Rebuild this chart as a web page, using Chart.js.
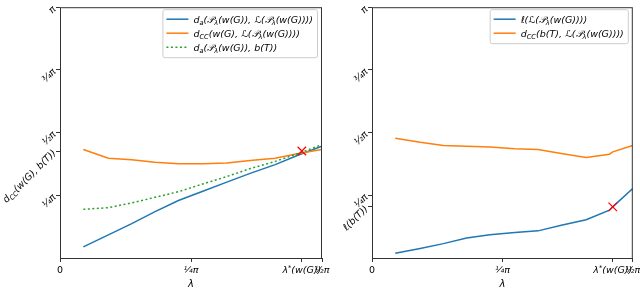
<!DOCTYPE html>
<html>
<head>
<meta charset="utf-8">
<script src="https://cdn.jsdelivr.net/npm/chart.js@4.4.1/dist/chart.umd.min.js"></script>
<style>
  html, body { margin: 0; padding: 0; background: #fff; }
  #wrap { position: relative; width: 640px; height: 289px; overflow: hidden; }
  canvas { position: absolute; top: 0; }
</style>
</head>
<body>
<div id="wrap">
  <canvas id="left" width="332" height="289" style="left:0"></canvas>
  <canvas id="right" width="308" height="289" style="left:332px"></canvas>
</div>
<script>
// values (radians)
const lambdaStar = 1.45;

const xLeft = [0.14, 0.29, 0.43, 0.57, 0.71, 0.86, 1.00, 1.14, 1.29, 1.43, 1.57];
const daLeft = [0.14, 0.29, 0.43, 0.58, 0.72, 0.84, 0.95, 1.06, 1.17, 1.29, 1.40];
const dccLeft = [1.36, 1.25, 1.23, 1.20, 1.18, 1.18, 1.19, 1.22, 1.25, 1.31, 1.36];
const daTree = [0.61, 0.63, 0.69, 0.76, 0.83, 0.93, 1.02, 1.12, 1.21, 1.31, 1.42];
const markLeft = [1.45, 1.34];

const xRight = [0.14, 0.29, 0.43, 0.57, 0.71, 0.86, 1.00, 1.14, 1.29, 1.43, 1.45, 1.57];
const lenRight = [0.06, 0.12, 0.18, 0.25, 0.29, 0.32, 0.34, 0.41, 0.48, 0.60, 0.64, 0.87];
const dccRight = [1.50, 1.45, 1.41, 1.40, 1.39, 1.37, 1.36, 1.31, 1.26, 1.30, 1.33, 1.41];
const markRight = [1.45, 0.64];

const xTicks = [0, Math.PI / 4, lambdaStar, Math.PI / 2];
const xTickLabels = ['0', '¼π', 'λ^{*}(w(G))', '½π'];
const yTicksLeft = [Math.PI / 4, 1.34, Math.PI / 2, 3 * Math.PI / 4, Math.PI];
const yLabelsLeft = ['¼π', 'd_{CC}(w(G), b(T))', '½π', '¾π', 'π'];
const yTicksRight = [0.64, Math.PI / 4, Math.PI / 2, 3 * Math.PI / 4, Math.PI];
const yLabelsRight = ['ℓ(b(T))', '¼π', '½π', '¾π', 'π'];

const legendLeft = [
  'd_{a}(𝒫_{λ}(w(G)), ℒ(𝒫_{λ}(w(G))))',
  'd_{CC}(w(G), ℒ(𝒫_{λ}(w(G))))',
  'd_{a}(𝒫_{λ}(w(G)), b(T))'
];
const legendRight = [
  'ℓ(ℒ(𝒫_{λ}(w(G))))',
  'd_{CC}(b(T), ℒ(𝒫_{λ}(w(G))))'
];

const BLUE = '#1f77b4', ORANGE = '#ff7f0e', GREEN = '#2ca02c';
const FONT = '"DejaVu Sans"';

// split "d_{CC}(x)" into plain / sub / sup pieces
function parseRich(s) {
  const out = [];
  let buf = '', i = 0;
  while (i < s.length) {
    const c = s[i];
    if ((c === '_' || c === '^') && s[i + 1] === '{') {
      if (buf) out.push({ t: buf, k: 0 });
      buf = '';
      const j = s.indexOf('}', i);
      out.push({ t: s.slice(i + 2, j), k: c === '_' ? 1 : -1 });
      i = j + 1;
    } else {
      buf += c;
      i++;
    }
  }
  if (buf) out.push({ t: buf, k: 0 });
  return out;
}

function richWidth(ctx, s, size, style) {
  let w = 0;
  parseRich(s).forEach(p => {
    ctx.font = style + ' ' + (p.k ? size * 0.7 : size) + 'px ' + FONT;
    w += ctx.measureText(p.t).width;
  });
  return w;
}

// draws with vertical middle at y
function drawRich(ctx, s, x, y, size, align, style) {
  style = style || 'italic';
  const w = richWidth(ctx, s, size, style);
  let cx = align === 'right' ? x - w : align === 'center' ? x - w / 2 : x;
  ctx.textAlign = 'left';
  ctx.textBaseline = 'alphabetic';
  ctx.fillStyle = '#000';
  parseRich(s).forEach(p => {
    const sz = p.k ? size * 0.7 : size;
    ctx.font = style + ' ' + sz + 'px ' + FONT;
    const dy = p.k === 1 ? size * 0.22 : p.k === -1 ? -size * 0.38 : 0;
    ctx.fillText(p.t, cx, y + size * 0.36 + dy);
    cx += ctx.measureText(p.t).width;
  });
}

function pts(xs, ys) {
  return xs.map((x, i) => ({ x: x, y: ys[i] }));
}

const framePlugin = {
  id: 'frame',
  afterDraw(chart, args, opts) {
    const ctx = chart.ctx;
    const a = chart.chartArea;
    const xs = chart.scales.x, ys = chart.scales.y;
    ctx.save();
    ctx.strokeStyle = '#333';
    ctx.lineWidth = 1;
    ctx.strokeRect(a.left + 0.5, a.top + 0.5, a.right - a.left - 1, a.bottom - a.top);

    // x tick labels
    opts.xTicks.forEach((v, i) => {
      drawRich(ctx, opts.xLabels[i], xs.getPixelForValue(v), a.bottom + 12, 9.5, 'center',
        opts.xLabels[i] === '0' ? 'normal' : 'italic');
    });
    drawRich(ctx, 'λ', (a.left + a.right) / 2, a.bottom + 25, 10, 'center');

    // y tick labels, rotated 45 degrees
    opts.yTicks.forEach((v, i) => {
      ctx.save();
      ctx.translate(a.left - 6, ys.getPixelForValue(v));
      ctx.rotate(-Math.PI / 4);
      drawRich(ctx, opts.yLabels[i], 0, 0, 9.5, 'right');
      ctx.restore();
    });

    // legend box
    const size = 9.5;
    const rowH = 14;
    const tw = Math.max(...opts.legend.map(s => richWidth(ctx, s, size, 'italic')));
    const bw = 4 + 22 + 5 + tw + 4;
    const bh = 6 + opts.legend.length * rowH;
    const bx = a.right - 5 - bw, by = a.top + 2;
    ctx.fillStyle = 'rgba(255,255,255,0.85)';
    ctx.strokeStyle = '#cccccc';
    ctx.beginPath();
    ctx.roundRect(bx + 0.5, by + 0.5, bw, bh, 2);
    ctx.fill();
    ctx.stroke();
    opts.legend.forEach((s, i) => {
      const ry = by + 3 + rowH * i + rowH / 2;
      ctx.strokeStyle = opts.colors[i];
      ctx.lineWidth = 1.5;
      ctx.setLineDash(opts.dashes[i]);
      ctx.beginPath();
      ctx.moveTo(bx + 4, ry);
      ctx.lineTo(bx + 26, ry);
      ctx.stroke();
      ctx.setLineDash([]);
      drawRich(ctx, s, bx + 31, ry, size, 'left');
    });
    ctx.restore();
  }
};

function axes(yLeftWidth, yTicks, xTicksV) {
  const tickGrid = {
    display: true, drawOnChartArea: false, drawTicks: true,
    tickLength: 4, tickColor: '#333', tickWidth: 1
  };
  return {
    x: {
      type: 'linear', min: 0, max: Math.PI / 2,
      grid: tickGrid, border: { display: false },
      ticks: { display: false },
      afterBuildTicks: s => { s.ticks = xTicksV.map(v => ({ value: v })); },
      afterFit: s => { s.height = 31; }
    },
    y: {
      type: 'linear', min: 0, max: Math.PI,
      grid: tickGrid, border: { display: false },
      ticks: { display: false },
      afterBuildTicks: s => { s.ticks = yTicks.map(v => ({ value: v })); },
      afterFit: s => { s.width = yLeftWidth; }
    }
  };
}

function lineSet(label, xs, ys, color, order, dash) {
  return {
    label: label, data: pts(xs, ys), borderColor: color, backgroundColor: color,
    borderWidth: 1.5, pointRadius: 0, fill: false, tension: 0, order: order,
    borderDash: dash || []
  };
}

function markSet(m) {
  return {
    label: 'marker', data: [{ x: m[0], y: m[1] }], showLine: false,
    pointStyle: 'crossRot', pointRadius: 6, borderColor: 'red', borderWidth: 1.2, order: 0
  };
}

const common = {
  responsive: false, animation: false, devicePixelRatio: 1,
  plugins: { legend: { display: false }, tooltip: { enabled: false } }
};

new Chart(document.getElementById('left'), {
  type: 'line',
  data: {
    datasets: [
      lineSet(legendLeft[0], xLeft, daLeft, BLUE, 3),
      lineSet(legendLeft[1], xLeft, dccLeft, ORANGE, 2),
      lineSet(legendLeft[2], xLeft, daTree, GREEN, 1, [2, 2.5]),
      markSet(markLeft)
    ]
  },
  options: Object.assign({}, common, {
    layout: { padding: { top: 2, right: 10, left: 0, bottom: 0 } },
    scales: axes(60, yTicksLeft, xTicks),
    plugins: Object.assign({}, common.plugins, {
      frame: {
        xTicks: xTicks, xLabels: xTickLabels, yTicks: yTicksLeft, yLabels: yLabelsLeft,
        legend: legendLeft, colors: [BLUE, ORANGE, GREEN], dashes: [[], [], [2, 2.5]]
      }
    })
  }),
  plugins: [framePlugin]
});

new Chart(document.getElementById('right'), {
  type: 'line',
  data: {
    datasets: [
      lineSet(legendRight[0], xRight, lenRight, BLUE, 2),
      lineSet(legendRight[1], xRight, dccRight, ORANGE, 1),
      markSet(markRight)
    ]
  },
  options: Object.assign({}, common, {
    layout: { padding: { top: 2, right: 6, left: 0, bottom: 0 } },
    scales: axes(40, yTicksRight, xTicks),
    plugins: Object.assign({}, common.plugins, {
      frame: {
        xTicks: xTicks, xLabels: xTickLabels, yTicks: yTicksRight, yLabels: yLabelsRight,
        legend: legendRight, colors: [BLUE, ORANGE], dashes: [[], []]
      }
    })
  }),
  plugins: [framePlugin]
});
</script>
</body>
</html>
